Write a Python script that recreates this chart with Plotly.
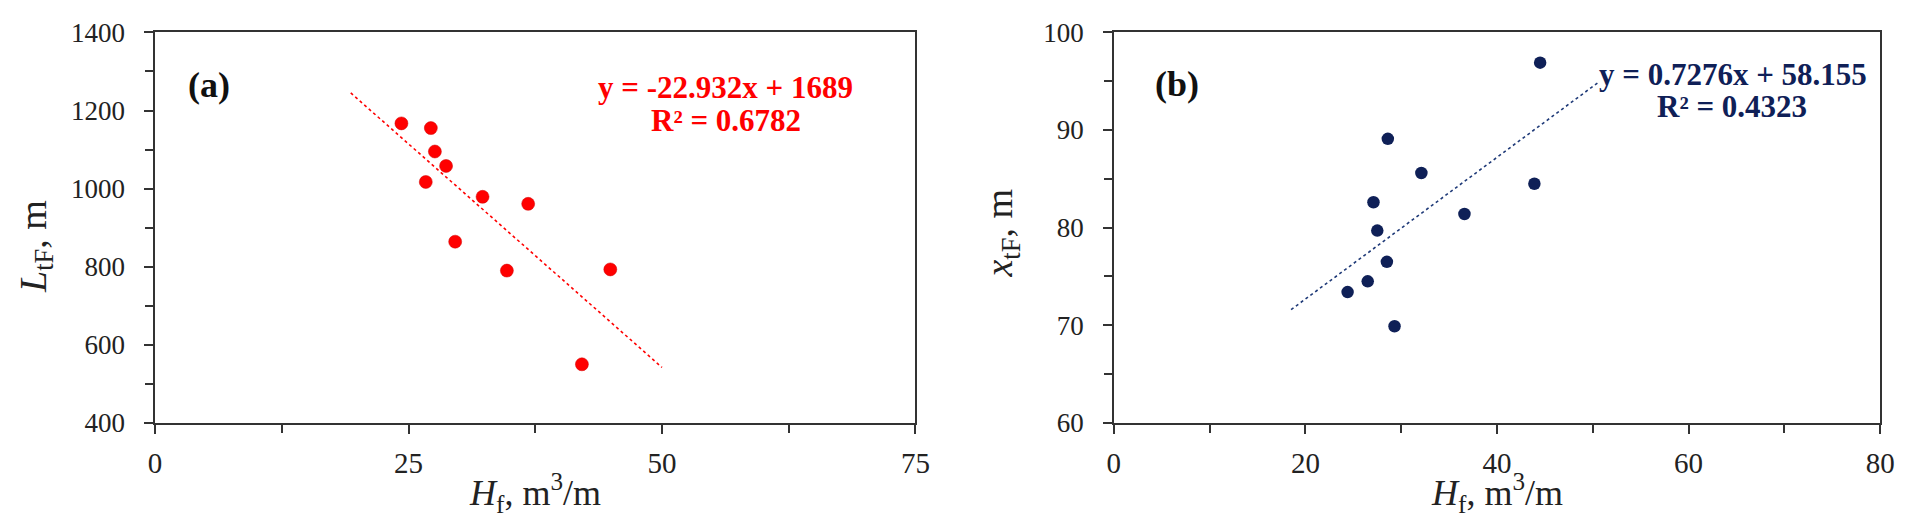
import plotly.graph_objects as go

# panel (a): fracture height vs. tF length
hf_a = [24.3, 27.2, 27.6, 28.7, 26.7, 32.3, 36.8, 29.6, 34.7, 44.9, 42.1]
ltf_a = [1167, 1155, 1095, 1058, 1017, 979, 961, 864, 790, 793, 550]
trend_a_x = [19.3, 50.0]
trend_a_y = [1245, 542]
eq_a = "y = -22.932x + 1689"
r2_a = "R² = 0.6782"

# panel (b): fracture height vs. tF position
hf_b = [44.5, 28.6, 32.1, 43.9, 27.1, 36.6, 27.5, 28.5, 26.5, 24.4, 29.3]
xtf_b = [96.9, 89.1, 85.6, 84.5, 82.6, 81.4, 79.7, 76.5, 74.5, 73.4, 69.9]
trend_b_x = [18.5, 50.6]
trend_b_y = [71.6, 94.9]
eq_b = "y = 0.7276x + 58.155"
r2_b = "R² = 0.4323"

W, H = 1905, 517
FONT = "Liberation Serif, Times New Roman, serif"
RED = "#ff0000"
NAVY = "#0f2057"
LINE = "#333333"


def px(x):
    return x / W


def py(y):
    return 1 - y / H


fig = go.Figure()

fig.add_trace(go.Scatter(
    x=trend_a_x, y=trend_a_y, mode="lines",
    line=dict(color=RED, width=1.6, dash="dot"),
    xaxis="x", yaxis="y", showlegend=False, hoverinfo="skip"
))
fig.add_trace(go.Scatter(
    x=hf_a, y=ltf_a, mode="markers",
    marker=dict(color=RED, size=13, line=dict(color="#d00000", width=0.5)),
    xaxis="x", yaxis="y", showlegend=False
))
fig.add_trace(go.Scatter(
    x=trend_b_x, y=trend_b_y, mode="lines",
    line=dict(color="#1f3a78", width=1.6, dash="dot"),
    xaxis="x2", yaxis="y2", showlegend=False, hoverinfo="skip"
))
fig.add_trace(go.Scatter(
    x=hf_b, y=xtf_b, mode="markers",
    marker=dict(color=NAVY, size=12.5),
    xaxis="x2", yaxis="y2", showlegend=False
))

ydom = [py(424.5), py(10)]
minor_style = dict(ticks="outside", ticklen=8, tickcolor=LINE, tickwidth=1.5)

xaxis_common = dict(
    showline=True, mirror=True, linecolor=LINE, linewidth=1.5,
    showgrid=False, zeroline=False,
    ticks="outside", ticklen=9, tickwidth=1.5, tickcolor=LINE,
    tickfont=dict(family=FONT, size=29, color="#222"),
    ticklabelstandoff=5, ticklabeloverflow="allow",
    fixedrange=True,
)
yaxis_common = dict(
    showline=True, mirror=True, linecolor=LINE, linewidth=1.5,
    showgrid=False, zeroline=False,
    ticks="outside", ticklen=9, tickwidth=1.5, tickcolor=LINE,
    tickfont=dict(family=FONT, size=27, color="#222"),
    ticklabelstandoff=14, ticklabeloverflow="allow",
    fixedrange=True,
)

fig.update_layout(
    width=W, height=H,
    margin=dict(l=0, r=0, t=0, b=0),
    paper_bgcolor="white", plot_bgcolor="white",
    font=dict(family=FONT, color="#222"),
    xaxis=dict(xaxis_common, domain=[px(141.7), px(911)], range=[0, 75], dtick=25,
               minor=dict(minor_style, dtick=12.5), anchor="y"),
    yaxis=dict(yaxis_common, domain=ydom, range=[400, 1400], dtick=200,
               minor=dict(minor_style, dtick=100), anchor="x"),
    xaxis2=dict(xaxis_common, domain=[px(1111.7), px(1887)], range=[0, 80], dtick=20,
                minor=dict(minor_style, dtick=10), anchor="y2"),
    yaxis2=dict(yaxis_common, domain=ydom, range=[60, 100], dtick=10,
                minor=dict(minor_style, dtick=5), anchor="x2"),
)

annotations = [
    # panel labels
    dict(text="<b>(a)</b>", x=px(196), y=py(66), size=36, color="#111"),
    dict(text="<b>(b)</b>", x=px(1176), y=py(65), size=36, color="#111"),
    # trend equations
    dict(text="<b>" + eq_a + "</b>", x=px(719), y=py(68), size=31, color=RED),
    dict(text="<b>" + r2_a + "</b>", x=px(719), y=py(103), size=31, color=RED),
    dict(text="<b>" + eq_b + "</b>", x=px(1738), y=py(55), size=31, color=NAVY),
    dict(text="<b>" + r2_b + "</b>", x=px(1737), y=py(89), size=31, color=NAVY),
    # axis titles
    dict(text="<i>H</i><sub>f</sub>, m<sup>3</sup>/m", x=px(526), y=py(499), size=36, color="#222"),
    dict(text="<i>H</i><sub>f</sub>, m<sup>3</sup>/m", x=px(1499), y=py(499), size=36, color="#222"),
    dict(text="<i>L</i><sub>tF</sub>, m", x=px(21), y=py(237), size=38, color="#222", textangle=-90),
    dict(text="<i>x</i><sub>tF</sub>, m", x=px(999), y=py(223), size=38, color="#222", textangle=-90),
]

for a in annotations:
    fig.add_annotation(
        text=a["text"], x=a["x"], y=a["y"], xref="paper", yref="paper",
        xanchor="center", yanchor="middle", showarrow=False,
        textangle=a.get("textangle", 0),
        font=dict(family=FONT, size=a["size"], color=a["color"]),
    )

fig.write_html("out.html")
